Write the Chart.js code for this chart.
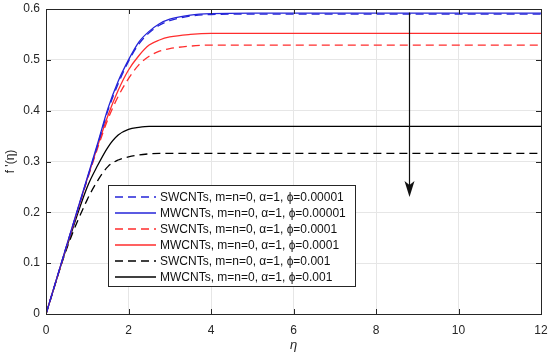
<!DOCTYPE html>
<html>
<head>
<meta charset="utf-8">
<script src="https://cdn.jsdelivr.net/npm/chart.js@4.4.1/dist/chart.umd.min.js"></script>
<style>
  html, body { margin: 0; padding: 0; background: #fff; }
  canvas { display: block; }
</style>
</head>
<body>
<canvas id="chart" width="550" height="357"></canvas>
<script>
// eta samples and f'(eta)
const ETA = [0, 0.5, 1, 1.25, 1.5, 1.75, 2, 2.25, 2.5, 2.75, 3, 3.5, 4, 5, 6, 8, 10, 12];

const SW_1 = [0, 0.134, 0.266, 0.332, 0.400, 0.453, 0.497, 0.531, 0.553, 0.568, 0.577, 0.586, 0.589, 0.590, 0.590, 0.590, 0.590, 0.590];
const MW_1 = [0, 0.135, 0.268, 0.335, 0.404, 0.458, 0.500, 0.535, 0.556, 0.571, 0.580, 0.588, 0.591, 0.592, 0.592, 0.592, 0.592, 0.592];
const SW_2 = [0, 0.133, 0.264, 0.326, 0.383, 0.428, 0.463, 0.490, 0.507, 0.517, 0.522, 0.527, 0.529, 0.529, 0.529, 0.529, 0.529, 0.529];
const MW_2 = [0, 0.134, 0.266, 0.330, 0.390, 0.440, 0.480, 0.508, 0.529, 0.539, 0.545, 0.550, 0.552, 0.552, 0.552, 0.552, 0.552, 0.552];
const SW_3 = [0, 0.128, 0.225, 0.262, 0.290, 0.303, 0.309, 0.313, 0.315, 0.316, 0.316, 0.316, 0.316, 0.316, 0.316, 0.316, 0.316, 0.316];
const MW_3 = [0, 0.131, 0.250, 0.292, 0.328, 0.352, 0.363, 0.367, 0.369, 0.369, 0.369, 0.369, 0.369, 0.369, 0.369, 0.369, 0.369, 0.369];

const LABELS = [
  'SWCNTs, m=n=0, \u03b1=1, \u03d5=0.00001',
  'MWCNTs, m=n=0, \u03b1=1, \u03d5=0.00001',
  'SWCNTs, m=n=0, \u03b1=1, \u03d5=0.0001',
  'MWCNTs, m=n=0, \u03b1=1, \u03d5=0.0001',
  'SWCNTs, m=n=0, \u03b1=1, \u03d5=0.001',
  'MWCNTs, m=n=0, \u03b1=1, \u03d5=0.001'
];

const X_TICKS = [0, 2, 4, 6, 8, 10, 12];
const Y_TICKS = [0, 0.1, 0.2, 0.3, 0.4, 0.5, 0.6];

// arrow: at eta, from / to f'
const ARROW_ETA = 8.8;
const ARROW_FROM = 0.593;
const ARROW_TO = 0.23;

const BLUE = '#2424d8';
const RED = '#ff2d2d';
const BLACK = '#000000';
const AXIS = '#262626';
const FONT = '"Liberation Sans", Arial, sans-serif';

function makeSet(label, values, color, dashed) {
  return {
    label: label,
    data: ETA.map((e, i) => ({ x: e, y: values[i] })),
    borderColor: color,
    borderWidth: 1.3,
    borderDash: dashed ? [8, 5] : [],
    pointRadius: 0,
    fill: false,
    cubicInterpolationMode: 'monotone'
  };
}

const datasets = [
  makeSet(LABELS[0], SW_1, BLUE, true),
  makeSet(LABELS[1], MW_1, BLUE, false),
  makeSet(LABELS[2], SW_2, RED, true),
  makeSet(LABELS[3], MW_2, RED, false),
  makeSet(LABELS[4], SW_3, BLACK, true),
  makeSet(LABELS[5], MW_3, BLACK, false)
];

// box, inward ticks, arrow and legend (matlab look)
const decorations = {
  id: 'decorations',
  afterDraw(chart) {
    const ctx = chart.ctx;
    const { left, right, top, bottom } = chart.chartArea;
    const xs = chart.scales.x;
    const ys = chart.scales.y;
    ctx.save();

    // box
    ctx.strokeStyle = AXIS;
    ctx.lineWidth = 1;
    ctx.setLineDash([]);
    ctx.strokeRect(Math.round(left) + 0.5, Math.round(top) + 0.5, Math.round(right - left), Math.round(bottom - top));

    // ticks
    ctx.beginPath();
    for (let i = 0; i < X_TICKS.length; ++i) {
      const px = Math.round(xs.getPixelForValue(X_TICKS[i])) + 0.5;
      ctx.moveTo(px, bottom); ctx.lineTo(px, bottom - 5);
      ctx.moveTo(px, top); ctx.lineTo(px, top + 5);
    }
    for (let i = 0; i < Y_TICKS.length; ++i) {
      const py = Math.round(ys.getPixelForValue(Y_TICKS[i])) + 0.5;
      ctx.moveTo(left, py); ctx.lineTo(left + 5, py);
      ctx.moveTo(right, py); ctx.lineTo(right - 5, py);
    }
    ctx.stroke();

    // arrow
    const ax = Math.round(xs.getPixelForValue(ARROW_ETA)) + 0.5;
    const ay1 = ys.getPixelForValue(ARROW_FROM);
    const ay2 = ys.getPixelForValue(ARROW_TO);
    ctx.strokeStyle = '#111';
    ctx.lineWidth = 1.2;
    ctx.beginPath();
    ctx.moveTo(ax, ay1);
    ctx.lineTo(ax, ay2 - 8);
    ctx.stroke();
    ctx.fillStyle = '#111';
    ctx.beginPath();
    ctx.moveTo(ax, ay2);
    ctx.lineTo(ax - 5, ay2 - 16);
    ctx.lineTo(ax, ay2 - 12);
    ctx.lineTo(ax + 5, ay2 - 16);
    ctx.closePath();
    ctx.fill();

    // legend
    const lx = 108.5, ly = 185.5, lw = 247, lh = 101;
    ctx.fillStyle = '#fff';
    ctx.fillRect(lx, ly, lw, lh);
    ctx.strokeStyle = AXIS;
    ctx.lineWidth = 1;
    ctx.strokeRect(lx, ly, lw, lh);
    ctx.font = '12px ' + FONT;
    ctx.textBaseline = 'middle';
    ctx.textAlign = 'left';
    chart.data.datasets.forEach((ds, i) => {
      const ry = ly + 11.5 + i * 16;
      ctx.strokeStyle = ds.borderColor;
      ctx.lineWidth = 1.3;
      ctx.setLineDash(ds.borderDash);
      ctx.beginPath();
      ctx.moveTo(115, ry);
      ctx.lineTo(156, ry);
      ctx.stroke();
      ctx.setLineDash([]);
      ctx.fillStyle = '#111';
      ctx.fillText(ds.label, 160, ry + 0.5);
    });

    ctx.restore();
  }
};

new Chart(document.getElementById('chart'), {
  type: 'line',
  data: { datasets: datasets },
  plugins: [decorations],
  options: {
    responsive: false,
    animation: false,
    devicePixelRatio: 1,
    layout: { padding: { top: 9, right: 9, left: 0, bottom: 0 } },
    plugins: {
      legend: { display: false },
      tooltip: { enabled: false }
    },
    scales: {
      x: {
        type: 'linear',
        min: 0,
        max: 12,
        afterBuildTicks: (s) => { s.ticks = X_TICKS.map(v => ({ value: v })); },
        afterFit: (s) => { s.height = 43; s.paddingLeft = 0; s.paddingRight = 0; },
        ticks: { color: AXIS, font: { family: FONT, size: 12 }, padding: 9, maxRotation: 0 },
        grid: { color: '#e6e6e6', drawTicks: false },
        border: { display: false },
        title: {
          display: true,
          text: '\u03b7',
          color: AXIS,
          font: { family: FONT, size: 13, style: 'italic' },
          padding: { top: 0, bottom: 4 }
        }
      },
      y: {
        type: 'linear',
        min: 0,
        max: 0.6,
        afterBuildTicks: (s) => { s.ticks = Y_TICKS.map(v => ({ value: v })); },
        afterFit: (s) => { s.width = 46; s.paddingTop = 0; s.paddingBottom = 0; },
        ticks: { color: AXIS, font: { family: FONT, size: 12 }, padding: 6 },
        grid: { color: '#e6e6e6', drawTicks: false },
        border: { display: false },
        title: {
          display: true,
          text: "f '(\u03b7)",
          color: AXIS,
          font: { family: FONT, size: 12 },
          padding: { top: 3, bottom: 0 }
        }
      }
    }
  }
});
</script>
</body>
</html>
